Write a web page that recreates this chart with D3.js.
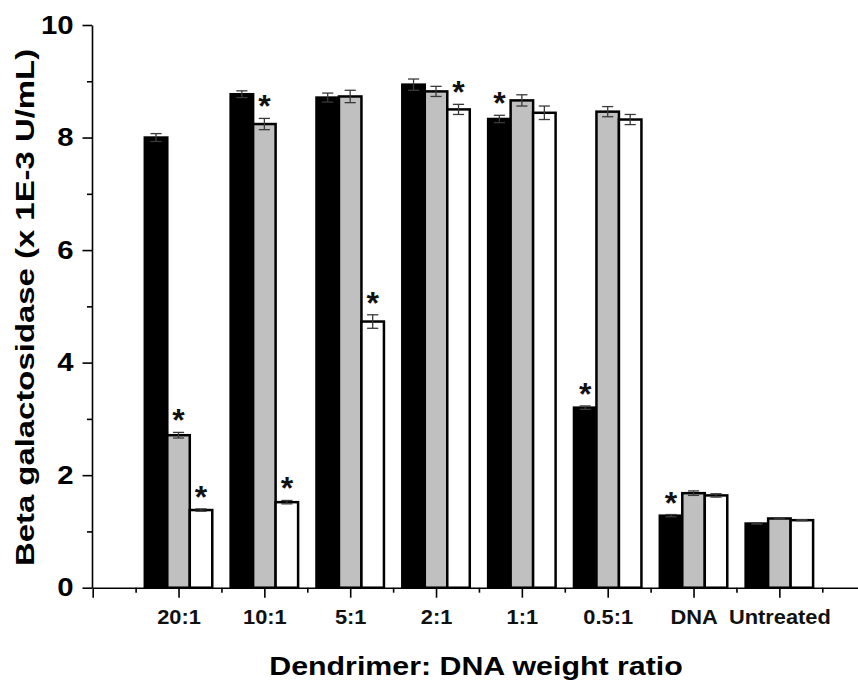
<!DOCTYPE html>
<html>
<head>
<meta charset="utf-8">
<script src="https://cdn.jsdelivr.net/npm/d3@7"></script>
<style>
  body { margin: 0; background: #fff; }
  svg { display: block; font-family: Arial, "Liberation Sans", sans-serif; }
</style>
</head>
<body>
<div id="chart"></div>
<script>
// Data
const categories = ["20:1", "10:1", "5:1", "2:1", "1:1", "0.5:1", "DNA", "Untreated"];
const blackValues = [8.0, 8.77, 8.71, 8.94, 8.33, 3.2, 1.28, 1.14];
const blackErrors = [0.07, 0.06, 0.08, 0.1, 0.065, 0.03, 0.02, 0.01];
const grayValues = [2.71, 8.24, 8.73, 8.82, 8.66, 8.46, 1.68, 1.23];
const grayErrors = [0.05, 0.1, 0.11, 0.09, 0.1, 0.09, 0.04, 0.01];
const whiteValues = [1.38, 1.52, 4.73, 8.5, 8.44, 8.32, 1.64, 1.2];
const whiteErrors = [0.02, 0.03, 0.12, 0.09, 0.12, 0.09, 0.03, 0.01];
// significance marks (*) per bar
const blackStars = [0, 0, 0, 0, 1, 1, 1, 0];
const grayStars = [1, 1, 0, 0, 0, 0, 0, 0];
const whiteStars = [1, 1, 1, 1, 0, 0, 0, 0];
const yMajorTicks = [0, 2, 4, 6, 8, 10];
const yMinorTicks = [1, 3, 5, 7, 9];

const width = 858, height = 688;

const series = [
  { fill: "#000000", values: blackValues, errors: blackErrors, stars: blackStars },
  { fill: "#c0c0c0", values: grayValues, errors: grayErrors, stars: grayStars },
  { fill: "#ffffff", values: whiteValues, errors: whiteErrors, stars: whiteStars }
];

const svg = d3.select("#chart").append("svg")
    .attr("width", width)
    .attr("height", height);

// x is a numeric axis: category i sits at i + 1
const x = d3.scaleLinear().domain([0, 9]).range([92.7, 865.2]);
const y = d3.scaleLinear().domain([0, 10]).range([587.7, 25]);

const barW = 0.262; // in x units

// the figure's bold font runs wider than Liberation Sans, so widen the glyphs
function widen(sel, sx) {
  sel.each(function () {
    const t = d3.select(this);
    const x0 = +t.attr("x") || 0;
    t.attr("x", x0 / sx).attr("transform", `scale(${sx},1)`);
  });
}

// Bars
const rows = [];
categories.forEach((c, i) => {
  series.forEach((s, j) => {
    rows.push({ cat: i + 1, pos: i + 1 + (j - 1) * barW, v: s.values[i], e: s.errors[i], star: s.stars[i], fill: s.fill });
  });
});

svg.append("g")
  .selectAll("rect")
  .data(rows)
  .join("rect")
    .attr("x", d => x(d.pos - barW / 2))
    .attr("y", d => y(d.v))
    .attr("width", d => x(d.pos + barW / 2) - x(d.pos - barW / 2))
    .attr("height", d => y(0) - y(d.v))
    .attr("fill", d => d.fill)
    .attr("stroke", "#000")
    .attr("stroke-width", 2.5);

// Error bars
const capW = 0.065;
const err = svg.append("g")
    .attr("stroke", "#3a3a3a")
    .attr("stroke-width", 1.3)
  .selectAll("g")
  .data(rows)
  .join("g");

err.append("line")
    .attr("x1", d => x(d.pos)).attr("x2", d => x(d.pos))
    .attr("y1", d => y(d.v - d.e)).attr("y2", d => y(d.v + d.e));
err.append("line")
    .attr("x1", d => x(d.pos - capW)).attr("x2", d => x(d.pos + capW))
    .attr("y1", d => y(d.v + d.e)).attr("y2", d => y(d.v + d.e));
err.append("line")
    .attr("x1", d => x(d.pos - capW)).attr("x2", d => x(d.pos + capW))
    .attr("y1", d => y(d.v - d.e)).attr("y2", d => y(d.v - d.e));

// Asterisks
svg.append("g")
  .selectAll("text")
  .data(rows.filter(d => d.star))
  .join("text")
    .attr("x", d => x(d.pos))
    .attr("y", d => y(d.v + d.e) - 1)
    .attr("text-anchor", "middle")
    .attr("font-size", 32)
    .attr("font-weight", "bold")
    .attr("fill", "#111")
    .text("*");

// Y axis
const yAxis = svg.append("g")
    .attr("transform", `translate(${x(0) - 0.7},0)`)
    .call(d3.axisLeft(y).tickValues(yMajorTicks).tickSize(9.5).tickSizeOuter(0).tickPadding(9).tickFormat(d3.format("d")));
yAxis.append("g")
    .call(d3.axisLeft(y).tickValues(yMinorTicks).tickSize(5).tickSizeOuter(0).tickFormat(""))
    .select(".domain").remove();
yAxis.selectAll("path, line").attr("stroke", "#000").attr("stroke-width", 1.6);
yAxis.selectAll("text")
    .attr("font-size", 25.5)
    .attr("font-weight", "bold")
    .attr("font-family", "Arial, 'Liberation Sans', sans-serif")
    .attr("fill", "#000")
    .call(widen, 1.15);

// X axis
const xAxis = svg.append("g")
    .attr("transform", `translate(0,${y(0)})`)
    .call(d3.axisBottom(x).tickValues(d3.range(0, 10)).tickSize(10).tickSizeOuter(0).tickPadding(12)
      .tickFormat(d => categories[d - 1] || ""));
xAxis.append("g")
    .call(d3.axisBottom(x).tickValues(d3.range(0.5, 9, 1)).tickSize(5).tickSizeOuter(0).tickFormat(""))
    .select(".domain").remove();
xAxis.selectAll("path, line").attr("stroke", "#000").attr("stroke-width", 1.6);
xAxis.selectAll("text")
    .attr("font-size", 19.5)
    .attr("font-weight", "bold")
    .attr("font-family", "Arial, 'Liberation Sans', sans-serif")
    .attr("fill", "#111")
    .call(widen, 1.12);

// Axis titles
svg.append("text")
    .attr("transform", "translate(476,675) scale(1.19,1)")
    .attr("text-anchor", "middle")
    .attr("font-size", 25.5)
    .attr("font-weight", "bold")
    .text("Dendrimer: DNA weight ratio");

svg.append("text")
    .attr("transform", "translate(33.5,307.5) rotate(-90) scale(1.29,1)")
    .attr("text-anchor", "middle")
    .attr("font-size", 25.5)
    .attr("font-weight", "bold")
    .text("Beta galactosidase (x 1E-3 U/mL)");
</script>
</body>
</html>
